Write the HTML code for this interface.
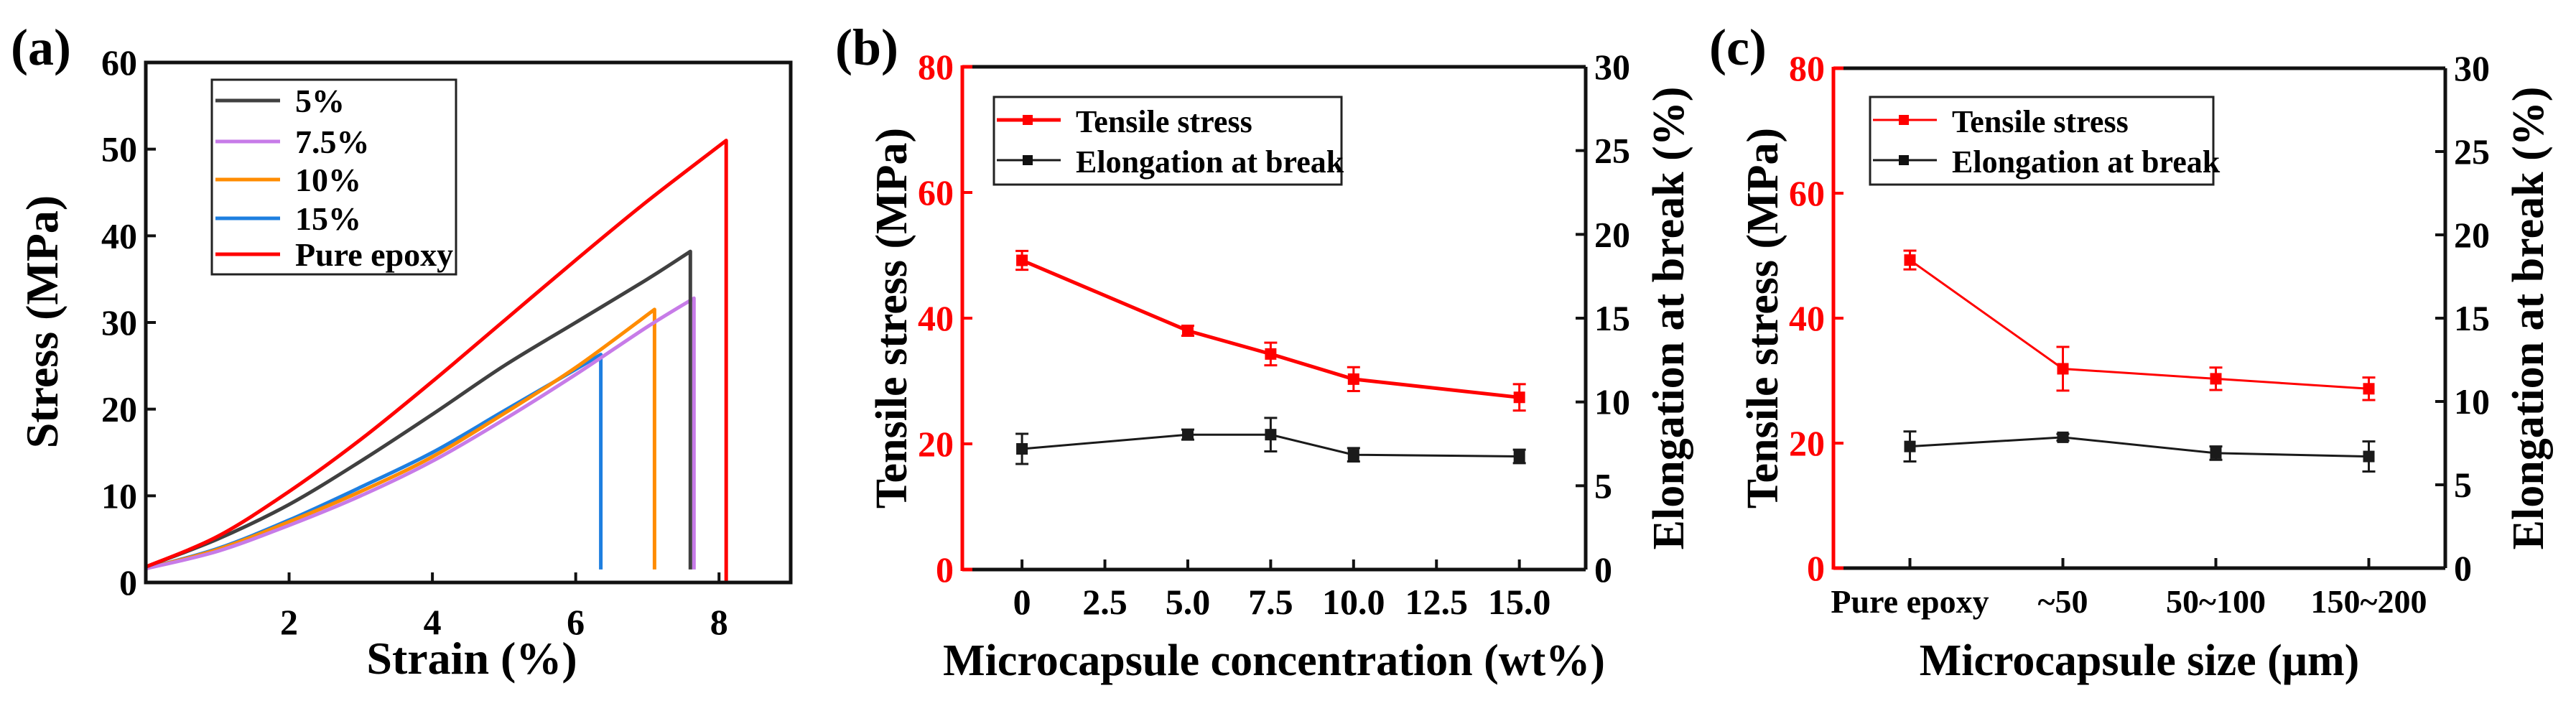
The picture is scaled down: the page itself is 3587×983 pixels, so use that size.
<!DOCTYPE html>
<html><head><meta charset="utf-8"><style>
html,body{margin:0;padding:0;background:#fff}
svg, svg text{font-family:"Liberation Serif","DejaVu Serif","Times New Roman",serif;font-weight:bold}
</style></head><body>
<svg id="fig" width="3587" height="978" viewBox="0 0 3587 978" xmlns="http://www.w3.org/2000/svg" font-family="Liberation Serif, DejaVu Serif, serif" font-weight="bold"></svg>
<script>
// ---------- Panel (a) data ----------
const aSeriesNames = ["5%","7.5%","10%","15%","Pure epoxy"];
const aColors = ["#404040","#c77be8","#ff8c00","#1e7fe0","#ff0000"];
const aStrain5 = [0,1,2,3,4,5,6,7,7.6];
const aStress5 = [1.8,5,9,14,19.4,25,30,35,38.2];
const aStrain75 = [0,1,2,3,4,5,6,7,7.65];
const aStress75 = [1.6,3.6,6.6,10,14,18.8,24,29.5,32.8];
const aStrain10 = [0,1,2,3,4,5,6,7.1];
const aStress10 = [1.6,3.8,7,10.5,14.5,19.5,24.8,31.5];
const aStrain15 = [0,1,2,3,4,5,6,6.35];
const aStress15 = [1.6,3.9,7.2,11,15,19.8,24.6,26.3];
const aStrainPure = [0,1,2,3,4,5,6,7,8.1];
const aStressPure = [1.8,5.3,10.5,16.5,23.2,30.2,37.2,44,51];
const aBreakLow = [1.5,1.5,1.5,1.5,0];
const aXTicks = [2,4,6,8];
const aYTicks = [0,10,20,30,40,50,60];
// ---------- Panel (b) data ----------
const bX = [0,5,7.5,10,15];
const bStress = [49.2,38,34.3,30.3,27.4];
const bStressErr = [1.5,0.8,1.8,1.9,2.1];
const bElong = [7.2,8.05,8.05,6.85,6.75];
const bElongErr = [0.9,0.3,1.0,0.4,0.4];
const bXTicks = [0,2.5,5,7.5,10,12.5,15];
const bXTickLabels = ["0","2.5","5.0","7.5","10.0","12.5","15.0"];
// ---------- Panel (c) data ----------
const cCats = ["Pure epoxy","~50","50~100","150~200"];
const cStress = [49.3,31.9,30.3,28.7];
const cStressErr = [1.5,3.5,1.8,1.8];
const cElong = [7.3,7.85,6.9,6.7];
const cElongErr = [0.9,0.2,0.4,0.9];
const leftTicks = [0,20,40,60,80];
const rightTicks = [0,5,10,15,20,25,30];

const NS="http://www.w3.org/2000/svg";
const svg=document.getElementById('fig');
const FF='Liberation Serif, DejaVu Serif, serif';
function mk(tag,attrs,parent,txt){const e=document.createElementNS(NS,tag);for(const k in attrs)e.setAttribute(k,attrs[k]);if(tag==='text'){e.setAttribute('font-family',FF);e.setAttribute('font-weight','bold');}if(txt!==undefined)e.textContent=txt;(parent||svg).appendChild(e);return e;}
function grp(name){const g=mk('g',{});return g;}
function smooth(pts){
 let d='M'+pts[0][0].toFixed(1)+','+pts[0][1].toFixed(1);
 for(let i=0;i<pts.length-1;i++){
  const p0=pts[Math.max(0,i-1)],p1=pts[i],p2=pts[i+1],p3=pts[Math.min(pts.length-1,i+2)];
  const c1=[p1[0]+(p2[0]-p0[0])/6,p1[1]+(p2[1]-p0[1])/6];
  const c2=[p2[0]-(p3[0]-p1[0])/6,p2[1]-(p3[1]-p1[1])/6];
  d+='C'+c1[0].toFixed(1)+','+c1[1].toFixed(1)+' '+c2[0].toFixed(1)+','+c2[1].toFixed(1)+' '+p2[0].toFixed(1)+','+p2[1].toFixed(1);
 }
 return d;
}

// ================= Panel A =================
(function(){
 const L=203,R=1101,T=87,B=811;
 const X=v=>L+(v-0)/9*(R-L), Y=v=>B-v/60*(B-T);
 const g=grp('panel-a');
 const lab=mk('text',{x:15,y:90,'font-size':72},g,'(a)');
 
 const sx=[aStrain5,aStrain75,aStrain10,aStrain15,aStrainPure];
 const sy=[aStress5,aStress75,aStress10,aStress15,aStressPure];
 const order=[3,2,1,0,4];
 order.forEach(i=>{
  const pts=sx[i].map((v,k)=>[X(v),Y(sy[i][k])]);
  let d=smooth(pts);
  const last=sx[i].length-1;
  d+='L'+X(sx[i][last]).toFixed(1)+','+Y(aBreakLow[i]).toFixed(1);
  const p=mk('path',{d:d,fill:'none',stroke:aColors[i],'stroke-width':5,'stroke-linejoin':'round'},g);
  
  
 });
 const f=mk('rect',{x:L,y:T,width:R-L,height:B-T,fill:'none',stroke:'#111','stroke-width':5},g);
 
 aXTicks.forEach(v=>{
  mk('line',{x1:X(v),x2:X(v),y1:B,y2:B-14,stroke:'#111','stroke-width':4},g);
  const t=mk('text',{x:X(v),y:B+72,'font-size':50,'text-anchor':'middle'},g,String(v));
  
 });
 aYTicks.forEach(v=>{
  mk('line',{x1:L,x2:L+14,y1:Y(v),y2:Y(v),stroke:'#111','stroke-width':4},g);
  const t=mk('text',{x:L-12,y:Y(v)+17,'font-size':50,'text-anchor':'end'},g,String(v));
  
 });
 const xt=mk('text',{x:(L+R)/2+5,y:938,'font-size':64,'text-anchor':'middle'},g,'Strain (%)');
 
 const yt=mk('text',{x:0,y:0,'font-size':64,'text-anchor':'middle',transform:'translate(80,448) rotate(-90)'},g,'Stress (MPa)');
 
 const lg=grp('legend');g.appendChild(lg);
 mk('rect',{x:295,y:111,width:340,height:271,fill:'#fff',stroke:'#222','stroke-width':3},lg);
 const ys=[140,197,250,304,354], idx=[0,1,2,3,4];
 idx.forEach((i,k)=>{
  mk('line',{x1:300,x2:390,y1:ys[k],y2:ys[k],stroke:aColors[i],'stroke-width':5},lg);
  const t=mk('text',{x:411,y:ys[k]+16,'font-size':46},lg,aSeriesNames[i]);
  
 });
})();

// =============== Dual-axis panels ===============
function dual(opts){
 const {L,R,T,B,X,xs,stress,sErr,elong,eErr,ticksX,tickLabels,label,labX,xTitle,name,redW,legX,legW,tickFont}=opts;
 const YL=v=>B-v/80*(B-T), YR=v=>B-v/30*(B-T);
 const g=grp(name);
 const lab=mk('text',{x:labX,y:90,'font-size':72},g,label);
 
 mk('line',{x1:L,x2:R,y1:T,y2:T,stroke:'#111','stroke-width':5},g);
 mk('line',{x1:L,x2:R,y1:B,y2:B,stroke:'#111','stroke-width':5},g);
 mk('line',{x1:R,x2:R,y1:T,y2:B,stroke:'#111','stroke-width':5},g);
 mk('line',{x1:L,x2:L,y1:T-2,y2:B+2,stroke:'#ff0000','stroke-width':5},g);
 mk('line',{x1:L,x2:L+14,y1:T,y2:T,stroke:'#ff0000','stroke-width':5},g);
 mk('line',{x1:L,x2:L+14,y1:B,y2:B,stroke:'#ff0000','stroke-width':5},g);
 ticksX.forEach((v,i)=>{
  mk('line',{x1:X(v),x2:X(v),y1:B,y2:B-14,stroke:'#111','stroke-width':4},g);
  const t=mk('text',{x:X(v),y:B+62,'font-size':tickFont,'text-anchor':'middle'},g,tickLabels[i]);
  
 });
 leftTicks.forEach(v=>{
  mk('line',{x1:L,x2:L+14,y1:YL(v),y2:YL(v),stroke:'#ff0000','stroke-width':4},g);
  const t=mk('text',{x:L-12,y:YL(v)+17,'font-size':50,'text-anchor':'end',fill:'#ff0000'},g,String(v));
  
 });
 rightTicks.forEach(v=>{
  mk('line',{x1:R,x2:R-14,y1:YR(v),y2:YR(v),stroke:'#111','stroke-width':4},g);
  const t=mk('text',{x:R+12,y:YR(v)+17,'font-size':50,'text-anchor':'start'},g,String(v));
  
 });
 function series(vals,errs,Y,col,w,nm){
  const sg=grp(nm);g.appendChild(sg);
  let d='';vals.forEach((v,i)=>{d+=(i?'L':'M')+X(xs[i]).toFixed(1)+','+Y(v).toFixed(1);});
  mk('path',{d:d,fill:'none',stroke:col,'stroke-width':w},sg);
  vals.forEach((v,i)=>{
   const x=X(xs[i]),y1=Y(v+errs[i]),y2=Y(v-errs[i]);
   mk('line',{x1:x,x2:x,y1:y1,y2:y2,stroke:col,'stroke-width':3},sg);
   mk('line',{x1:x-9,x2:x+9,y1:y1,y2:y1,stroke:col,'stroke-width':3},sg);
   mk('line',{x1:x-9,x2:x+9,y1:y2,y2:y2,stroke:col,'stroke-width':3},sg);
   const m=mk('rect',{x:x-8,y:Y(v)-8,width:16,height:16,fill:col},sg);
   
  });
 }
 series(stress,sErr,YL,'#ff0000',redW,'tensile-stress-series');
 series(elong,eErr,YR,'#1a1a1a',3,'elongation-series');
 const lg=grp('legend');g.appendChild(lg);
 mk('rect',{x:legX,y:135,width:legW,height:122,fill:'#fff',stroke:'#222','stroke-width':3},lg);
 mk('line',{x1:legX+4,x2:legX+93,y1:167,y2:167,stroke:'#ff0000','stroke-width':redW},lg);
 mk('rect',{x:legX+40,y:160,width:14,height:14,fill:'#ff0000'},lg);
 mk('line',{x1:legX+4,x2:legX+93,y1:223,y2:223,stroke:'#1a1a1a','stroke-width':3},lg);
 mk('rect',{x:legX+40,y:216,width:14,height:14,fill:'#111'},lg);
 let t=mk('text',{x:legX+114,y:184,'font-size':44},lg,'Tensile stress');
 
 t=mk('text',{x:legX+114,y:240,'font-size':44},lg,'Elongation at break');
 
 t=mk('text',{x:(L+R)/2,y:940,'font-size':62,'text-anchor':'middle'},g,xTitle);
 
 t=mk('text',{x:0,y:0,'font-size':62,'text-anchor':'middle',transform:'translate('+(L-78)+','+((T+B)/2)+') rotate(-90)'},g,'Tensile stress (MPa)');
 
 t=mk('text',{x:0,y:0,'font-size':62,'text-anchor':'middle',transform:'translate('+(R+136)+','+((T+B)/2)+') rotate(-90)'},g,'Elongation at break (%)');
 
}
(function(){
 const L=1340,R=2208;
 const X=v=>L+(v+1.8)/18.8*(R-L);
 dual({L:L,R:R,T:93,B:793,X:X,xs:bX,stress:bStress,sErr:bStressErr,elong:bElong,eErr:bElongErr,
  ticksX:bXTicks,tickLabels:bXTickLabels,label:'(b)',labX:1163,xTitle:'Microcapsule concentration (wt%)',
  name:'panel-b',redW:5,legX:1384,legW:484,tickFont:50});
})();
(function(){
 const L=2553,R=3405;
 const idx=cCats.map((c,i)=>i);
 const X=v=>L+(v+0.5)/4*(R-L);
 dual({L:L,R:R,T:95,B:791,X:X,xs:idx,stress:cStress,sErr:cStressErr,elong:cElong,eErr:cElongErr,
  ticksX:idx,tickLabels:cCats,label:'(c)',labX:2380,xTitle:'Microcapsule size (μm)',
  name:'panel-c',redW:3,legX:2604,legW:478,tickFont:46});
})();
</script>
</body></html>
